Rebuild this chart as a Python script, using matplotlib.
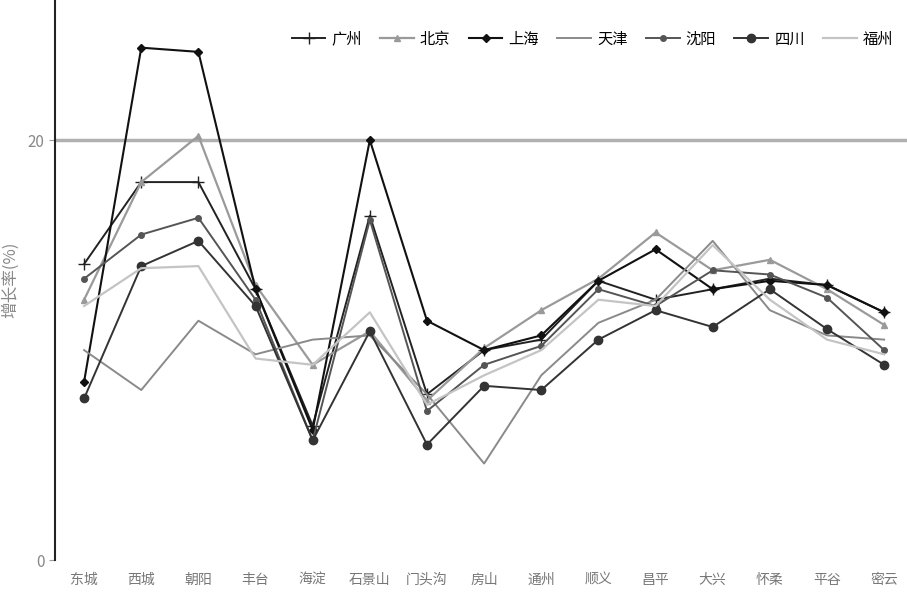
import matplotlib
matplotlib.use("Agg")
import matplotlib.pyplot as plt

plt.rcParams['font.family'] = ['Noto Sans CJK SC', 'DejaVu Sans']

# Categories along the x axis
periods = ["东城", "西城", "朝阳", "丰台", "海淀", "石景山", "门头沟", "房山",
           "通州", "顺义", "昌平", "大兴", "怀柔", "平谷", "密云"]

# Series values (%)
guangzhou = [14.1, 18.0, 18.0, 12.9, 6.4, 16.4, 7.9, 10.0, 10.5, 13.3, 12.4, 12.9, 13.4, 13.1, 11.8]
beijing = [12.4, 18.0, 20.2, 13.1, 9.3, 10.9, 7.6, 10.1, 11.9, 13.4, 15.6, 13.8, 14.3, 12.9, 11.2]
shanghai = [8.5, 24.4, 24.2, 12.9, 6.2, 20.0, 11.4, 10.0, 10.7, 13.3, 14.8, 12.9, 13.3, 13.1, 11.8]
tianjin = [10.0, 8.1, 11.4, 9.8, 10.5, 10.7, 7.9, 4.6, 8.8, 11.3, 12.4, 15.2, 11.9, 10.7, 10.5]
shenyang = [13.4, 15.5, 16.3, 12.4, 5.7, 16.2, 7.1, 9.3, 10.2, 12.9, 12.1, 13.8, 13.6, 12.5, 10.0]
sichuan = [7.7, 14.0, 15.2, 12.1, 5.7, 10.9, 5.5, 8.3, 8.1, 10.5, 11.9, 11.1, 12.9, 11.0, 9.3]
fuzhou = [12.1, 13.9, 14.0, 9.6, 9.3, 11.8, 7.4, 8.8, 10.0, 12.4, 12.1, 15.0, 12.4, 10.5, 9.8]

names = ["广州", "北京", "上海", "天津", "沈阳", "四川", "福州"]

fig = plt.figure(figsize=(9.07, 5.94), dpi=100)
ax = fig.add_axes([0.0606, 0.057, 0.9394, 0.943])

x = list(range(len(periods)))

ax.axhline(20, color="#b0b0b0", linewidth=2.5, zorder=0)

ax.plot(x, guangzhou, color="#222222", linewidth=1.4, marker="+", markersize=8, label=names[0])
ax.plot(x, beijing, color="#9a9a9a", linewidth=1.6, marker="^", markersize=5, label=names[1])
ax.plot(x, shanghai, color="#111111", linewidth=1.5, marker="D", markersize=4, label=names[2])
ax.plot(x, tianjin, color="#8a8a8a", linewidth=1.4, label=names[3])
ax.plot(x, shenyang, color="#555555", linewidth=1.4, marker="o", markersize=4, label=names[4])
ax.plot(x, sichuan, color="#333333", linewidth=1.4, marker="o", markersize=6, label=names[5])
ax.plot(x, fuzhou, color="#c4c4c4", linewidth=1.6, label=names[6])

ax.set_xlim(-0.51, 14.4)
ax.set_ylim(0, 26.67)
ax.set_yticks([0, 20])
ax.set_yticklabels(["0", "20"], color="#888888", fontsize=11)
ax.set_xticks(x)
ax.set_xticklabels(periods, color="#777777", fontsize=10)
ax.tick_params(axis="x", length=0, pad=9)
ax.tick_params(axis="y", length=4, color="#999999")

ax.set_ylabel("增长率(%)", color="#888888", fontsize=12, labelpad=6)

for side in ["top", "right", "bottom"]:
    ax.spines[side].set_visible(False)
ax.spines["left"].set_color("#222222")
ax.spines["left"].set_linewidth(1.5)

ax.legend(loc="upper right", bbox_to_anchor=(1.0, 0.97), ncol=7, frameon=False,
          fontsize=11, handlelength=2.2, columnspacing=1.2, handletextpad=0.4)

fig.savefig("out.png", dpi=100)
